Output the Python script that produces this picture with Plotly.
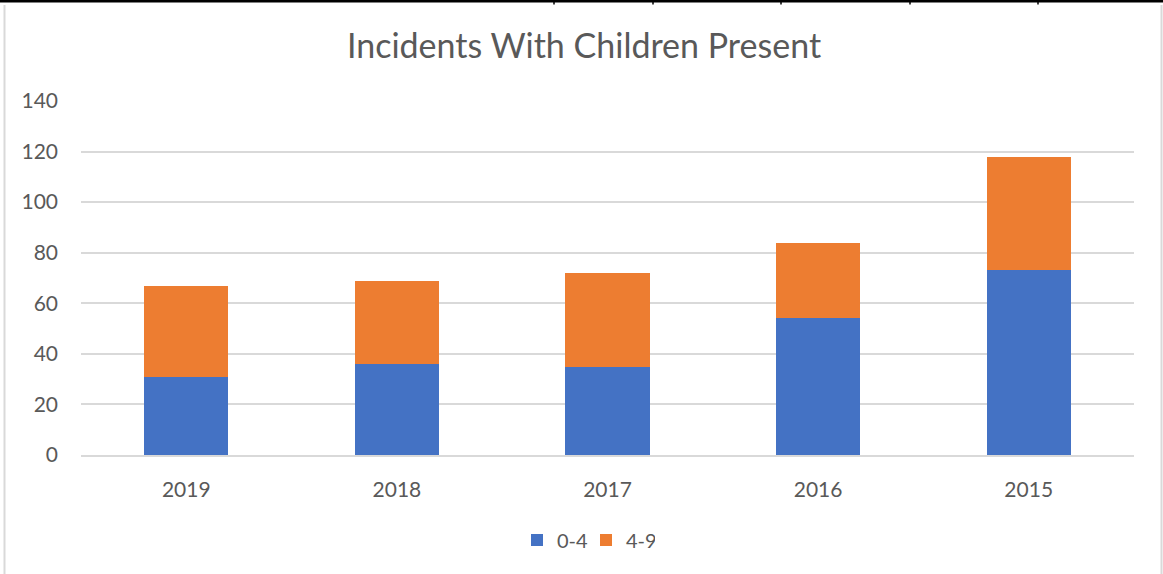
import plotly.graph_objects as go

years = ["2019", "2018", "2017", "2016", "2015"]
age_0_4 = [31, 36, 35, 54, 73]
age_4_9 = [36, 33, 37, 30, 45]
y_ticks = [0, 20, 40, 60, 80, 100, 120, 140]

W, H = 1163, 574
L, R, T, B = 81, 29, 101, 119
pw = W - L - R
ph = H - T - B


def px_x(x):
    return (x - L) / pw


def px_y(y):
    return (H - B - y) / ph


fig = go.Figure()
fig.add_trace(go.Bar(x=years, y=age_0_4, name="0-4", marker=dict(color="#4472C4", line=dict(width=0))))
fig.add_trace(go.Bar(x=years, y=age_4_9, name="4-9", marker=dict(color="#ED7D31", line=dict(width=0))))

font_family = "Lato, 'Open Sans', sans-serif"

fig.update_layout(
    width=W, height=H,
    barmode="stack", bargap=0.6,
    margin=dict(l=L, r=R, t=T, b=B, autoexpand=False),
    paper_bgcolor="white", plot_bgcolor="white",
    font=dict(family=font_family, color="#595959", size=20),
    title=dict(text="Incidents With Children Present", x=584 / W, xref="container", xanchor="center",
               y=1 - 46 / H, yanchor="middle", yref="container",
               font=dict(size=34, color="#595959", family=font_family)),
    legend=dict(orientation="h", x=px_x(586), xanchor="center",
                y=px_y(540), yanchor="middle",
                font=dict(size=20, color="#595959"), itemwidth=30, traceorder="normal",
                entrywidth=24),
    showlegend=True,
)
fig.update_yaxes(range=[0, 140], tickvals=y_ticks, showgrid=True, gridcolor="#D9D9D9", gridwidth=1.5,
                 zeroline=False, showline=False, ticks="", ticklabelstandoff=22,
                 tickfont=dict(size=21, color="#595959"), fixedrange=True)
fig.update_xaxes(showgrid=False, showline=True, linecolor="#D9D9D9", linewidth=1.5, ticks="",
                 ticklabelstandoff=15, tickfont=dict(size=21, color="#595959"), fixedrange=True)

shapes = []
shapes.append(dict(type="line", xref="paper", yref="paper", x0=px_x(0), x1=px_x(W),
                   y0=px_y(1.2), y1=px_y(1.2), line=dict(color="black", width=2.5)))
for tx in [554, 653, 781, 910, 1038]:
    shapes.append(dict(type="line", xref="paper", yref="paper", x0=px_x(tx), x1=px_x(tx),
                       y0=px_y(0), y1=px_y(4.5), line=dict(color="black", width=1.5)))
shapes.append(dict(type="line", xref="paper", yref="paper", x0=px_x(4.5), x1=px_x(4.5),
                   y0=px_y(5), y1=px_y(H), line=dict(color="#D9D9D9", width=2)))
shapes.append(dict(type="line", xref="paper", yref="paper", x0=px_x(1161.5), x1=px_x(1161.5),
                   y0=px_y(5), y1=px_y(H), line=dict(color="#D9D9D9", width=2)))
fig.update_layout(shapes=shapes)

fig.write_html("out.html", config={"displayModeBar": False},
               post_script="document.body.style.margin='0';document.body.style.overflow='hidden';")
